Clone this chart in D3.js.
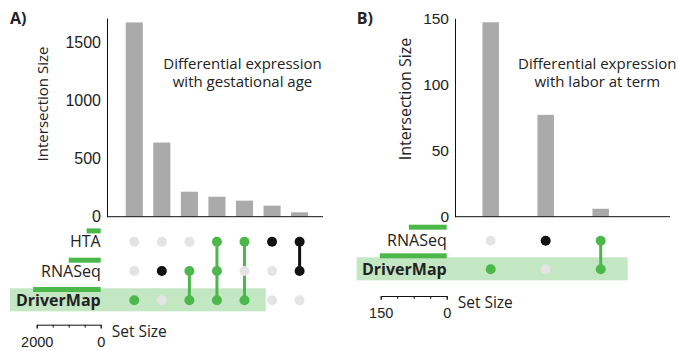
<!DOCTYPE html>
<html>
<head>
<meta charset="utf-8">
<script src="https://cdn.jsdelivr.net/npm/d3@7"></script>
<style>
  body { margin: 0; background: #fff; }
  svg { display: block; font-family: "Open Sans", sans-serif; }
  text { fill: #222; }
</style>
</head>
<body>
<svg width="678" height="351"></svg>
<script>
// Data: panel A (gestational age)
const setsA = ["HTA", "RNASeq", "DriverMap"];
const setSizesA = [440, 1000, 2110];
const sizesA = [1672, 638, 215, 172, 138, 95, 38];
const membersA = [
  ["DriverMap"], ["RNASeq"], ["RNASeq", "DriverMap"],
  ["HTA", "RNASeq", "DriverMap"], ["HTA", "DriverMap"], ["HTA"], ["HTA", "RNASeq"]
];
const yTicksA = [0, 500, 1000, 1500];
const setTicksA = [0, 500, 1000, 1500, 2000];

// Data: panel B (labor at term)
const setsB = ["RNASeq", "DriverMap"];
const setSizesB = [86, 152];
const sizesB = [147, 77, 6];
const membersB = [["DriverMap"], ["RNASeq"], ["RNASeq", "DriverMap"]];
const yTicksB = [0, 50, 100, 150];
const setTicksB = [0, 37.5, 75, 112.5, 150];

const GREEN = "#4cb84c", LIGHT_GREEN = "#c3e6c3", BAR = "#aaaaaa",
      DOT_OFF = "#e4e4e4", DOT_ON = "#111", HIGHLIGHT = "DriverMap";

const svg = d3.select("svg");

function drawPanel(p) {
  const g = svg.append("g");
  const ids = p.sizes.map((d, i) => i);

  const x = d3.scaleBand().domain(ids).range(p.colRange)
    .paddingInner(p.padIn).paddingOuter(p.padIn / 2);
  const y = d3.scaleLinear().domain([0, p.yMax]).range([p.yBase, p.yTop]);
  const row = d3.scalePoint().domain(p.sets).range(p.rowRange);
  const setX = d3.scaleLinear().domain([0, p.setMax]).range([p.labelX, p.labelX - p.setLen]);

  // highlight row
  g.append("rect")
    .attr("x", p.hlX[0]).attr("width", p.hlX[1] - p.hlX[0])
    .attr("y", row(HIGHLIGHT) - 12).attr("height", 23)
    .attr("fill", LIGHT_GREEN);

  // intersection bars
  g.selectAll(".bar").data(p.sizes).join("rect")
    .attr("class", "bar")
    .attr("x", (d, i) => x(i))
    .attr("width", x.bandwidth())
    .attr("y", d => y(d))
    .attr("height", d => p.yBase - y(d))
    .attr("fill", BAR);

  // y axis
  const yAxis = g.append("g")
    .attr("transform", `translate(${p.yAxisX},0)`)
    .call(d3.axisLeft(y).tickValues(p.yTicks).tickSize(0).tickPadding(6)
      .tickFormat(d3.format("d")));
  yAxis.select(".domain").attr("stroke", "#111");
  yAxis.selectAll("text").style("font-size", p.tickFs).attr("fill", "#222");

  g.append("line")
    .attr("x1", p.yAxisX).attr("x2", p.baseEnd)
    .attr("y1", p.yBase).attr("y2", p.yBase)
    .attr("stroke", "#111");

  g.append("text")
    .attr("transform", `translate(${p.yLabelX},${p.yLabelY}) rotate(-90)`)
    .attr("text-anchor", "middle")
    .style("font-size", p.yLabelFs)
    .text("Intersection Size");

  // annotation
  p.note.forEach((t, i) => {
    g.append("text")
      .attr("x", p.noteX).attr("y", 68.5 + i * 18.5)
      .attr("text-anchor", "middle")
      .style("font-size", "15px")
      .text(t);
  });

  g.append("text")
    .attr("x", p.panelX).attr("y", 24)
    .style("font-size", "16px").style("font-weight", "bold")
    .text(p.panel);

  // set size bars
  g.selectAll(".setbar").data(p.sets).join("rect")
    .attr("class", "setbar")
    .attr("x", (d, i) => setX(p.setSizes[i]))
    .attr("width", (d, i) => setX(0) - setX(p.setSizes[i]))
    .attr("y", d => row(d) - p.setOff)
    .attr("height", 5)
    .attr("fill", GREEN);

  // row labels
  g.selectAll(".rowlabel").data(p.sets).join("text")
    .attr("class", "rowlabel")
    .attr("x", p.labelX)
    .attr("y", d => row(d))
    .attr("dy", "0.35em")
    .attr("text-anchor", "end")
    .style("font-size", "16px")
    .style("font-weight", d => d === HIGHLIGHT ? "bold" : "normal")
    .text(d => d);

  // matrix
  const cx = i => x(i) + x.bandwidth() / 2;
  const cols = g.selectAll(".col").data(p.members).join("g").attr("class", "col");
  cols.each(function(m, i) {
    const c = d3.select(this);
    const col = m.includes(HIGHLIGHT) ? GREEN : DOT_ON;
    if (m.length > 1) {
      const ys = m.map(s => row(s));
      c.append("line")
        .attr("x1", cx(i)).attr("x2", cx(i))
        .attr("y1", d3.min(ys)).attr("y2", d3.max(ys))
        .attr("stroke", col).attr("stroke-width", 3);
    }
    c.selectAll("circle").data(p.sets).join("circle")
      .attr("cx", cx(i))
      .attr("cy", s => row(s))
      .attr("r", 5)
      .attr("fill", s => m.includes(s) ? col : DOT_OFF);
  });

  // set size axis
  const sAxis = g.append("g")
    .attr("transform", `translate(0,${p.setAxisY})`)
    .call(d3.axisBottom(setX).tickValues(p.setTicks)
      .tickSizeInner(3).tickSizeOuter(4).tickPadding(9)
      .tickFormat(d => (d === 0 || d === p.setMax) ? d : ""));
  sAxis.selectAll("line, path").attr("stroke", "#111");
  sAxis.selectAll("text").style("font-size", "14.5px").attr("fill", "#222");

  g.append("text")
    .attr("x", p.labelX + 11).attr("y", p.setAxisY + 12)
    .style("font-size", "15.5px")
    .text("Set Size");
}

drawPanel({
  panel: "A)", panelX: 10,
  sets: setsA, setSizes: setSizesA, sizes: sizesA, members: membersA,
  yTicks: yTicksA, setTicks: setTicksA, setMax: 2000, setLen: 64,
  yMax: 1710, yTop: 18, yBase: 216.7, yAxisX: 107, baseEnd: 323,
  colRange: [120.5, 313.4], padIn: 0.38,
  rowRange: [241.7, 300.3], labelX: 100.7, setOff: 13.3,
  hlX: [10, 265.7], setAxisY: 324.7,
  tickFs: "16px", yLabelFs: "15px",
  yLabelX: 48, yLabelY: 104,
  noteX: 242.5, note: ["Differential expression", "with gestational age"]
});

drawPanel({
  panel: "B)", panelX: 356.7,
  sets: setsB, setSizes: setSizesB, sizes: sizesB, members: membersB,
  yTicks: yTicksB, setTicks: setTicksB, setMax: 150, setLen: 66,
  yMax: 150, yTop: 18.3, yBase: 216.7, yAxisX: 455, baseEnd: 670,
  colRange: [463.2, 628.2], padIn: 0.70,
  rowRange: [240.7, 269.3], labelX: 446.7, setOff: 16,
  hlX: [356.7, 627.7], setAxisY: 296,
  tickFs: "15.5px", yLabelFs: "16px",
  yLabelX: 410.5, yLabelY: 99,
  noteX: 597.3, note: ["Differential expression", "with labor at term"]
});
</script>
</body>
</html>
